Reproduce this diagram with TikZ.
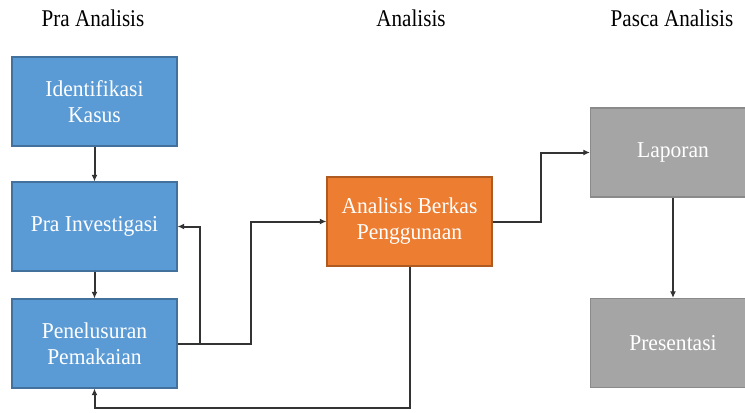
\documentclass[tikz,border=0pt]{standalone}
\usepackage{fontspec}
\setmainfont{Liberation Serif}
\newfontfamily\boxfont[FakeStretch=0.95]{Liberation Serif}
\newfontfamily\headfont[FakeStretch=0.88]{Liberation Serif}
\usetikzlibrary{arrows.meta}
\definecolor{bluefill}{HTML}{5B9BD5}
\definecolor{blueline}{HTML}{41719C}
\definecolor{orangefill}{HTML}{ED7D31}
\definecolor{orangeline}{HTML}{AE5A21}
\definecolor{grayfill}{HTML}{A5A5A5}
\definecolor{grayline}{HTML}{8A8A8A}
\definecolor{arrline}{HTML}{333333}
\tikzset{
    box/.style={draw, line width=0.8pt, minimum width=123.75pt, minimum height=66.75pt,
        align=center, text=white, font=\boxfont\fontsize{17}{19.5}\selectfont},
    bluebox/.style={box, fill=bluefill, draw=blueline},
    orangebox/.style={box, fill=orangefill, draw=orangeline},
    graybox/.style={box, fill=grayfill, draw=grayline},
    header/.style={anchor=base, font=\headfont\fontsize{18}{21}\selectfont},
    arr/.style={-{Latex[length=5pt,width=4.5pt]}, arrline, line width=1.5pt}
}
\begin{document}
\begin{tikzpicture}[x=0.75pt,y=-0.75pt]
    \useasboundingbox (0,0) rectangle (745,412);
    \clip (0,0) rectangle (745,412);
    %headers
    \node[header] (hpra) at (93,26) {Pra Analisis};
    \node[header] (hana) at (411,26) {Analisis};
    \node[header] (hpasca) at (672,26) {Pasca Analisis};
    %boxes
    \node[bluebox] (identifikasi) at (94.5,101.5) {Identifikasi\\Kasus};
    \node[bluebox] (prainv) at (94.5,226.5) {Pra Investigasi};
    \node[bluebox] (penelusuran) at (94.5,343.5) {Penelusuran\\Pemakaian};
    \node[orangebox] (analisis) at (409.5,221.5) {Analisis Berkas\\Penggunaan};
    \node[graybox] (laporan) at (673,152.5) {Laporan};
    \node[graybox] (presentasi) at (673,343) {Presentasi};
    %bends
    \coordinate (back) at (200,343.5);
    \coordinate (fwd) at (251,343.5);
    \coordinate (out) at (541,221.5);
    \coordinate (low) at (409.5,408);
    %draw lines
    \draw [arr] (identifikasi) -- (prainv);
    \draw [arr] (prainv) -- (penelusuran);
    \draw [arr] (penelusuran.east) -- (back) |- (prainv.east);
    \draw [arr] (back) -- (fwd) |- (analisis.west);
    \draw [arr] (analisis.east) -- (out) |- (laporan.west);
    \draw [arr] (laporan) -- (presentasi);
    \draw [arr] (analisis.south) -- (low) -| (penelusuran.south);
\end{tikzpicture}
\end{document}
